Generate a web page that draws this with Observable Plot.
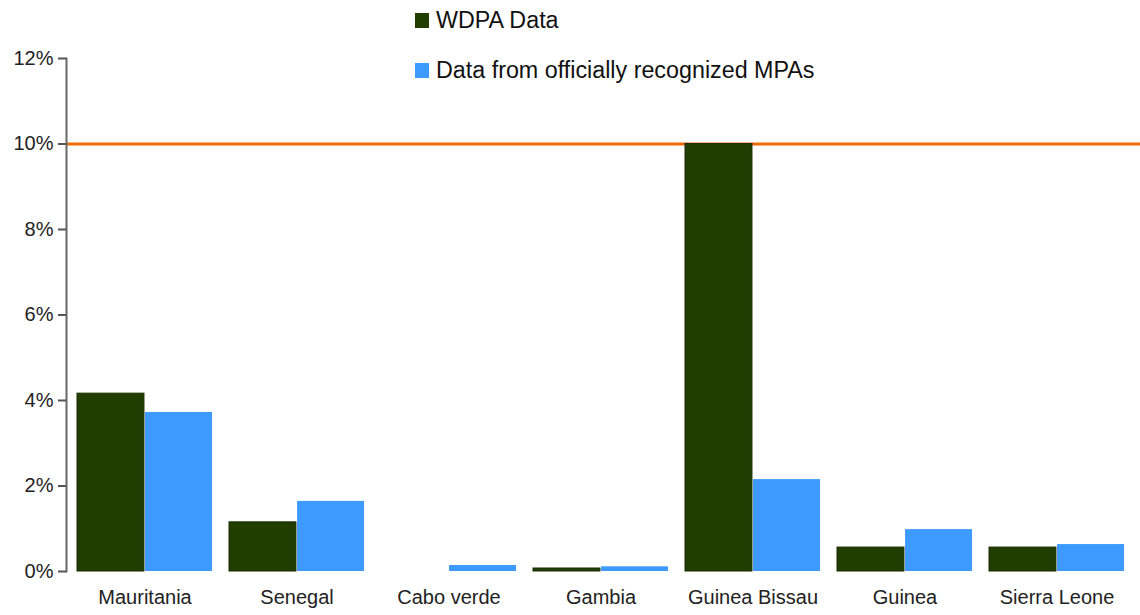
<!DOCTYPE html>
<html>
<head>
<meta charset="utf-8">
<script src="https://cdn.jsdelivr.net/npm/d3@7"></script>
<script src="https://cdn.jsdelivr.net/npm/@observablehq/plot@0.6"></script>
<style>
  html, body { margin: 0; padding: 0; background: #fff; }
  #wrap { position: relative; width: 1140px; height: 615px; font-family: "Liberation Sans", Arial, sans-serif; }
  #legend { position: absolute; left: 415px; top: -5px; color: #111; font-size: 23.3px; }
  #legend .item { display: flex; align-items: center; height: 50px; }
  #legend .sw { width: 14px; height: 15px; margin-right: 7px; }
</style>
</head>
<body>
<div id="wrap"></div>
<script>
const countries = ["Mauritania", "Senegal", "Cabo verde", "Gambia", "Guinea Bissau", "Guinea", "Sierra Leone"];
const wdpa = [4.16, 1.15, 0, 0.07, 10.0, 0.56, 0.56];
const official = [3.72, 1.64, 0.14, 0.11, 2.15, 0.98, 0.63];
const seriesNames = ["WDPA Data", "Data from officially recognized MPAs"];
const seriesColors = ["#223d00", "#3d9bff"];
const yTicks = [0, 2, 4, 6, 8, 10, 12];
const target = [10];

const W = 1140, H = 615, mL = 66, mR = 5.5;
const padIn = 0.115, padOut = 0.0575;
const step = (W - mL - mR) / (countries.length - padIn + 2 * padOut);
const bw = step * (1 - padIn);
const half = bw / 2 + 0.5;

const dataW = countries.map((c, i) => ({country: c, value: wdpa[i]}));
const dataO = countries.map((c, i) => ({country: c, value: official[i]}));

const chart = Plot.plot({
  width: W,
  height: H,
  marginTop: 58,
  marginBottom: 44,
  marginLeft: mL,
  marginRight: mR,
  style: {fontFamily: '"Liberation Sans", Arial, sans-serif', color: "#222", background: "#fff"},
  x: {domain: countries, paddingInner: padIn, paddingOuter: padOut, label: null},
  y: {domain: [0, 12], label: null},
  marks: [
    Plot.ruleY(target, {stroke: "#ee6a06", strokeWidth: 3, insetRight: -6}),
    Plot.barY(dataW, {x: "country", y: "value", fill: seriesColors[0], stroke: "#1a2e00", strokeWidth: 1, insetRight: half}),
    Plot.barY(dataO, {x: "country", y: "value", fill: seriesColors[1], insetLeft: half}),
    Plot.frame({anchor: "left", stroke: "#666", strokeWidth: 2}),
    Plot.axisY({ticks: yTicks, tickFormat: d => d + "%", tickSize: 8, tickPadding: 5, stroke: "#555", strokeWidth: 2, fontSize: 20, label: null}),
    Plot.axisX({tickSize: 0, tickPadding: 18, fontSize: 20, label: null})
  ]
});

const wrap = document.getElementById("wrap");
wrap.appendChild(chart);
const legend = document.createElement("div");
legend.id = "legend";
seriesNames.forEach((name, i) => {
  const item = document.createElement("div");
  item.className = "item";
  const sw = document.createElement("span");
  sw.className = "sw";
  sw.style.background = seriesColors[i];
  const t = document.createElement("span");
  t.textContent = name;
  item.appendChild(sw);
  item.appendChild(t);
  legend.appendChild(item);
});
wrap.appendChild(legend);
</script>
</body>
</html>
